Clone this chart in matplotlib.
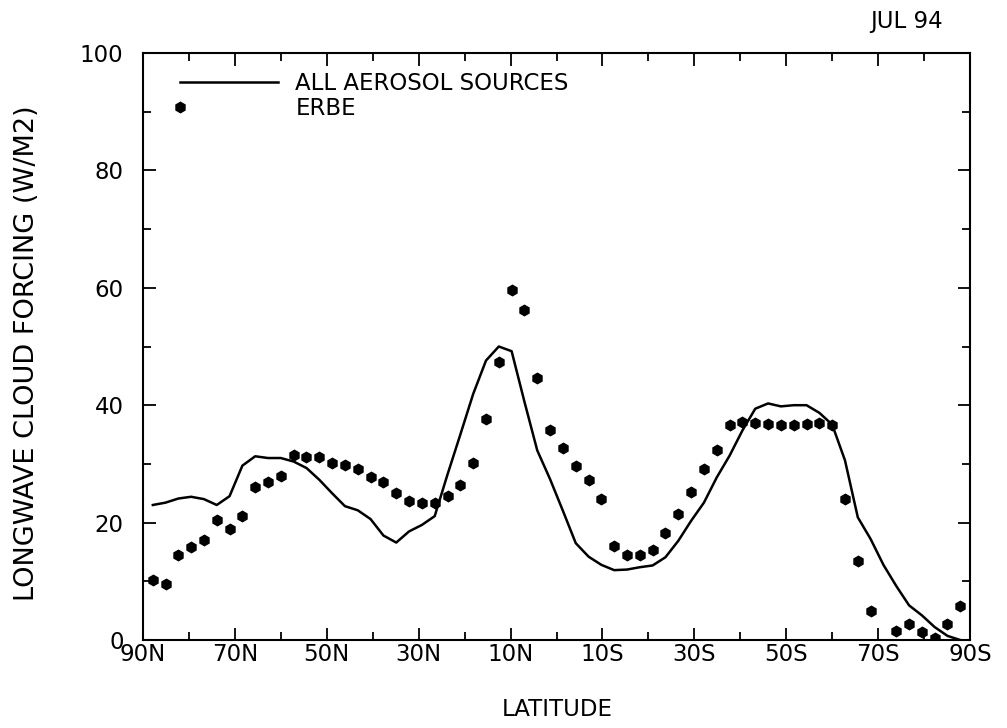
import numpy as np
import matplotlib
matplotlib.use('Agg')
import matplotlib.pyplot as plt
from matplotlib.legend_handler import HandlerLine2D
from matplotlib.ticker import MultipleLocator

# T42 gaussian latitudes (north to south)
lats = [87.86, 85.10, 82.31, 79.53, 76.74, 73.95, 71.16, 68.37, 65.58, 62.79,
        60.00, 57.21, 54.42, 51.63, 48.84, 46.05, 43.26, 40.47, 37.67, 34.88,
        32.09, 29.30, 26.51, 23.72, 20.93, 18.14, 15.35, 12.56, 9.77, 6.98,
        4.19, 1.40, -1.40, -4.19, -6.98, -9.77, -12.56, -15.35, -18.14, -20.93,
        -23.72, -26.51, -29.30, -32.09, -34.88, -37.67, -40.47, -43.26, -46.05, -48.84,
        -51.63, -54.42, -57.21, -60.00, -62.79, -65.58, -68.37, -71.16, -73.95, -76.74,
        -79.53, -82.31, -85.10, -87.86]

# model, all aerosol sources
model = [23.0, 23.4, 24.1, 24.4, 24.0, 23.0, 24.5, 29.7, 31.3, 31.0,
         31.0, 30.4, 29.3, 27.3, 25.0, 22.8, 22.1, 20.6, 17.8, 16.6,
         18.5, 19.6, 21.1, 28.2, 35.0, 41.9, 47.6, 50.0, 49.2, 40.6,
         32.3, 27.4, 22.0, 16.5, 14.2, 12.8, 11.9, 12.0, 12.4, 12.7,
         14.1, 16.9, 20.3, 23.4, 27.7, 31.4, 35.7, 39.4, 40.3, 39.8,
         40.0, 40.0, 38.7, 36.7, 30.6, 20.9, 17.2, 12.8, 9.2, 5.9,
         4.2, 2.2, 0.7, 0.0]

# ERBE observations (nan = no point)
erbe = [10.3, 9.6, 14.4, 15.8, 17.0, 20.4, 18.9, 21.2, 26.0, 26.9,
        28.0, 31.6, 31.2, 31.2, 30.1, 29.8, 29.2, 27.7, 27.0, 25.0,
        23.6, 23.3, 23.3, 24.6, 26.4, 30.2, 37.6, 47.3, 59.7, 56.3,
        44.7, 35.7, 32.7, 29.7, 27.3, 24.1, 16.0, 14.5, 14.4, 15.3,
        18.2, 21.5, 25.2, 29.1, 32.4, 36.6, 37.1, 37.0, 36.8, 36.6,
        36.6, 36.8, 36.9, 36.6, 24.1, 13.4, 5.0, np.nan, 1.5, 2.8,
        1.4, 0.4, 2.8, 5.8]

xticks = [90, 70, 50, 30, 10, -10, -30, -50, -70, -90]
xticklabels = ['90N', '70N', '50N', '30N', '10N', '10S', '30S', '50S', '70S', '90S']


class LeftMarker(HandlerLine2D):
    # single marker drawn at the left end of the handle instead of the middle
    def get_xdata(self, legend, xdescent, ydescent, width, height, fontsize):
        x0 = -xdescent
        return [x0 - width, x0 + width], [x0]


plt.rcParams['font.family'] = 'DejaVu Sans'
fs = 16.5

fig = plt.figure(figsize=(10.07, 7.28), dpi=100)
ax = fig.add_axes([143/1007, 88/728, 827/1007, 587/728])

l1, = ax.plot(lats, model, 'k-', lw=1.8, label='ALL AEROSOL SOURCES')
l2, = ax.plot(lats, erbe, 'kh', ms=7.5, ls='none', label='ERBE')

ax.set_xlim(90, -90)
ax.set_ylim(0, 100)
ax.set_xticks(xticks)
ax.set_xticklabels(xticklabels)
ax.xaxis.set_minor_locator(MultipleLocator(10))
ax.set_yticks([0, 20, 40, 60, 80, 100])
ax.yaxis.set_minor_locator(MultipleLocator(10))

for sp in ax.spines.values():
    sp.set_linewidth(1.5)
ax.tick_params(which='both', direction='in', top=True, right=True, width=1.3)
ax.tick_params(which='major', length=9)
ax.tick_params(which='minor', length=5.5)
ax.tick_params(axis='x', labelsize=fs, pad=2.5)
ax.tick_params(axis='y', labelsize=fs, pad=14)

leg = ax.legend(handles=[l1, l2], loc='upper left', bbox_to_anchor=(0.0446, 0.968),
                frameon=False, fontsize=fs, handlelength=4.3, handletextpad=0.74,
                labelspacing=0.08, borderpad=0, borderaxespad=0, numpoints=1,
                handler_map={l2: LeftMarker()})

fig.text(27/1007, 1 - 353/728, 'LONGWAVE CLOUD FORCING (W/M2)', rotation=90,
         ha='center', va='center', fontsize=19.5)
fig.text(557/1007, 1 - 710/728, 'LATITUDE', ha='center', va='center', fontsize=fs)
fig.text(943/1007, 1 - 28/728, 'JUL 94', ha='right', va='baseline', fontsize=fs)

fig.savefig('out.png', dpi=100)
